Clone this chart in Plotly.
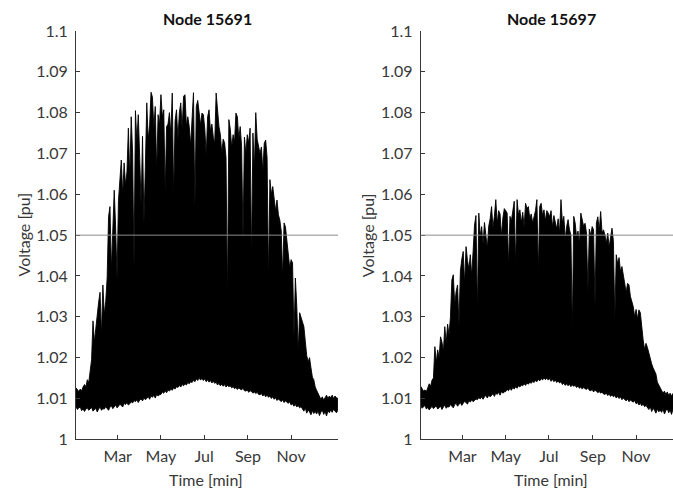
import pandas as pd
import plotly.graph_objects as go

# Daily voltage extremes sampled every second day, starting 1 Jan
START = "2019-01-01"
STEP = "2D"

node_15691_max = [
    1.0126, 1.0121, 1.0117, 1.0123, 1.0119, 1.0128, 1.0134, 1.0129, 1.0146, 1.0139,
    1.0172, 1.0195, 1.0290, 1.0238, 1.0272, 1.0312, 1.0336, 1.0360, 1.0255, 1.0378,
    1.0305, 1.0338, 1.0395, 1.0545, 1.0570, 1.0415, 1.0498, 1.0610, 1.0520, 1.0392,
    1.0585, 1.0652, 1.0684, 1.0598, 1.0677, 1.0622, 1.0655, 1.0762, 1.0640, 1.0790,
    1.0702, 1.0420, 1.0805, 1.0728, 1.0795, 1.0690, 1.0572, 1.0742, 1.0530, 1.0668,
    1.0824, 1.0735, 1.0768, 1.0850, 1.0838, 1.0762, 1.0815, 1.0655, 1.0795, 1.0770,
    1.0844, 1.0790, 1.0807, 1.0605, 1.0766, 1.0772, 1.0800, 1.0745, 1.0848, 1.0595,
    1.0780, 1.0807, 1.0735, 1.0799, 1.0824, 1.0760, 1.0840, 1.0844, 1.0768, 1.0790,
    1.0766, 1.0720, 1.0805, 1.0849, 1.0567, 1.0815, 1.0830, 1.0790, 1.0770, 1.0799,
    1.0795, 1.0760, 1.0695, 1.0790, 1.0807, 1.0755, 1.0772, 1.0740, 1.0725, 1.0848,
    1.0800, 1.0766, 1.0746, 1.0700, 1.0735, 1.0726, 1.0690, 1.0341, 1.0783, 1.0760,
    1.0715, 1.0746, 1.0728, 1.0799, 1.0790, 1.0735, 1.0766, 1.0717, 1.0488, 1.0740,
    1.0700, 1.0746, 1.0726, 1.0762, 1.0440, 1.0750, 1.0660, 1.0800, 1.0735, 1.0716,
    1.0700, 1.0716, 1.0655, 1.0725, 1.0733, 1.0690, 1.0390, 1.0636, 1.0600, 1.0619,
    1.0594, 1.0560, 1.0586, 1.0550, 1.0537, 1.0510, 1.0395, 1.0530, 1.0520, 1.0480,
    1.0447, 1.0420, 1.0440, 1.0432, 1.0250, 1.0395, 1.0325, 1.0216, 1.0310, 1.0300,
    1.0285, 1.0276, 1.0240, 1.0205, 1.0190, 1.0200, 1.0175, 1.0152, 1.0146, 1.0128,
    1.0120, 1.0112, 1.0106, 1.0098, 1.0104, 1.0096, 1.0102, 1.0108, 1.0100, 1.0106,
    1.0102, 1.0108, 1.0100, 1.0106, 1.0102, 1.0100,
]

node_15691_min = [
    1.0080, 1.0073, 1.0077, 1.0079, 1.0070, 1.0075, 1.0068, 1.0074, 1.0077, 1.0071,
    1.0073, 1.0078, 1.0069, 1.0072, 1.0076, 1.0067, 1.0074, 1.0079, 1.0071, 1.0075,
    1.0074, 1.0080, 1.0077, 1.0071, 1.0079, 1.0082, 1.0075, 1.0078, 1.0084, 1.0077,
    1.0081, 1.0086, 1.0083, 1.0079, 1.0088, 1.0085, 1.0090, 1.0084, 1.0087, 1.0092,
    1.0089, 1.0095, 1.0092, 1.0097, 1.0090, 1.0096, 1.0099, 1.0094, 1.0101, 1.0097,
    1.0100, 1.0105, 1.0098, 1.0106, 1.0103, 1.0108, 1.0101, 1.0110, 1.0106, 1.0109,
    1.0110, 1.0116, 1.0113, 1.0119, 1.0114, 1.0121, 1.0118, 1.0123, 1.0120, 1.0126,
    1.0123, 1.0129, 1.0127, 1.0132, 1.0128, 1.0134, 1.0131, 1.0136, 1.0133, 1.0139,
    1.0136, 1.0141, 1.0139, 1.0145, 1.0141, 1.0148, 1.0144, 1.0151, 1.0145, 1.0149,
    1.0144, 1.0148, 1.0141, 1.0146, 1.0140, 1.0144, 1.0138, 1.0142, 1.0137, 1.0140,
    1.0133, 1.0137, 1.0131, 1.0135, 1.0130, 1.0134, 1.0128, 1.0132, 1.0129, 1.0131,
    1.0126, 1.0129, 1.0124, 1.0127, 1.0122, 1.0126, 1.0123, 1.0121, 1.0125, 1.0119,
    1.0118, 1.0121, 1.0115, 1.0119, 1.0117, 1.0113, 1.0116, 1.0112, 1.0115, 1.0110,
    1.0109, 1.0112, 1.0106, 1.0110, 1.0104, 1.0108, 1.0103, 1.0106, 1.0100, 1.0104,
    1.0098, 1.0102, 1.0095, 1.0099, 1.0096, 1.0092, 1.0097, 1.0090, 1.0094, 1.0091,
    1.0088, 1.0092, 1.0084, 1.0087, 1.0081, 1.0085, 1.0079, 1.0083, 1.0077, 1.0080,
    1.0075, 1.0069, 1.0077, 1.0064, 1.0072, 1.0067, 1.0060, 1.0070, 1.0063, 1.0068,
    1.0062, 1.0070, 1.0058, 1.0066, 1.0072, 1.0061, 1.0068, 1.0057, 1.0070, 1.0065,
    1.0072, 1.0066, 1.0074, 1.0069, 1.0065, 1.0071,
]

node_15697_max = [
    1.0130, 1.0124, 1.0118, 1.0121, 1.0117, 1.0126, 1.0136, 1.0130, 1.0145, 1.0150,
    1.0227, 1.0188, 1.0219, 1.0200, 1.0251, 1.0238, 1.0215, 1.0276, 1.0236, 1.0282,
    1.0255, 1.0300, 1.0390, 1.0403, 1.0330, 1.0362, 1.0378, 1.0280, 1.0412, 1.0441,
    1.0460, 1.0380, 1.0472, 1.0438, 1.0418, 1.0452, 1.0400, 1.0462, 1.0525, 1.0548,
    1.0310, 1.0554, 1.0498, 1.0521, 1.0478, 1.0531, 1.0505, 1.0468, 1.0522, 1.0540,
    1.0570, 1.0518, 1.0546, 1.0587, 1.0528, 1.0560, 1.0552, 1.0498, 1.0542, 1.0565,
    1.0560, 1.0554, 1.0423, 1.0546, 1.0535, 1.0562, 1.0583, 1.0427, 1.0587, 1.0550,
    1.0562, 1.0530, 1.0556, 1.0520, 1.0578, 1.0565, 1.0570, 1.0540, 1.0552, 1.0530,
    1.0546, 1.0560, 1.0587, 1.0410, 1.0570, 1.0578, 1.0548, 1.0562, 1.0535, 1.0560,
    1.0554, 1.0545, 1.0560, 1.0520, 1.0548, 1.0529, 1.0515, 1.0540, 1.0505, 1.0587,
    1.0530, 1.0546, 1.0490, 1.0521, 1.0538, 1.0513, 1.0500, 1.0268, 1.0546, 1.0530,
    1.0495, 1.0510, 1.0478, 1.0554, 1.0540, 1.0521, 1.0529, 1.0505, 1.0362, 1.0515,
    1.0500, 1.0521, 1.0513, 1.0329, 1.0530, 1.0545, 1.0510, 1.0558, 1.0505, 1.0513,
    1.0501, 1.0480, 1.0505, 1.0470, 1.0495, 1.0517, 1.0485, 1.0292, 1.0452, 1.0430,
    1.0445, 1.0410, 1.0423, 1.0400, 1.0386, 1.0360, 1.0382, 1.0378, 1.0350, 1.0340,
    1.0325, 1.0300, 1.0318, 1.0295, 1.0317, 1.0310, 1.0270, 1.0243, 1.0220, 1.0235,
    1.0225, 1.0210, 1.0195, 1.0185, 1.0175, 1.0166, 1.0160, 1.0140, 1.0133, 1.0125,
    1.0120, 1.0113, 1.0118, 1.0110, 1.0116, 1.0108, 1.0113, 1.0106, 1.0112, 1.0108,
    1.0110, 1.0105, 1.0112, 1.0106, 1.0110, 1.0107,
]

node_15697_min = [
    1.0082, 1.0076, 1.0079, 1.0083, 1.0074, 1.0078, 1.0072, 1.0077, 1.0081, 1.0075,
    1.0078, 1.0082, 1.0074, 1.0077, 1.0081, 1.0073, 1.0079, 1.0084, 1.0076, 1.0080,
    1.0079, 1.0085, 1.0082, 1.0077, 1.0085, 1.0088, 1.0081, 1.0084, 1.0090, 1.0083,
    1.0088, 1.0093, 1.0090, 1.0086, 1.0095, 1.0091, 1.0097, 1.0092, 1.0095, 1.0099,
    1.0097, 1.0102, 1.0099, 1.0104, 1.0098, 1.0104, 1.0107, 1.0101, 1.0108, 1.0104,
    1.0107, 1.0112, 1.0105, 1.0113, 1.0110, 1.0115, 1.0108, 1.0117, 1.0113, 1.0116,
    1.0117, 1.0122, 1.0119, 1.0125, 1.0120, 1.0127, 1.0123, 1.0129, 1.0125, 1.0131,
    1.0128, 1.0133, 1.0131, 1.0136, 1.0132, 1.0138, 1.0135, 1.0140, 1.0137, 1.0142,
    1.0139, 1.0144, 1.0141, 1.0147, 1.0143, 1.0149, 1.0145, 1.0151, 1.0146, 1.0150,
    1.0145, 1.0149, 1.0142, 1.0147, 1.0141, 1.0145, 1.0139, 1.0143, 1.0138, 1.0141,
    1.0134, 1.0138, 1.0132, 1.0136, 1.0131, 1.0135, 1.0129, 1.0133, 1.0130, 1.0132,
    1.0127, 1.0130, 1.0125, 1.0128, 1.0123, 1.0127, 1.0124, 1.0122, 1.0126, 1.0120,
    1.0119, 1.0122, 1.0116, 1.0120, 1.0118, 1.0114, 1.0117, 1.0113, 1.0116, 1.0111,
    1.0110, 1.0113, 1.0107, 1.0111, 1.0105, 1.0109, 1.0104, 1.0107, 1.0101, 1.0105,
    1.0100, 1.0104, 1.0097, 1.0101, 1.0098, 1.0094, 1.0099, 1.0092, 1.0096, 1.0093,
    1.0091, 1.0095, 1.0087, 1.0090, 1.0084, 1.0088, 1.0082, 1.0086, 1.0080, 1.0083,
    1.0079, 1.0073, 1.0080, 1.0068, 1.0076, 1.0071, 1.0064, 1.0074, 1.0067, 1.0072,
    1.0066, 1.0074, 1.0062, 1.0070, 1.0075, 1.0065, 1.0072, 1.0061, 1.0073, 1.0068,
    1.0075, 1.0069, 1.0077, 1.0072, 1.0068, 1.0074,
]

nodes = ["Node 15691", "Node 15697"]
LIMIT_PU = 1.05

month_ticks = ["2019-03-01", "2019-05-01", "2019-07-01", "2019-09-01", "2019-11-01"]
month_labels = ["Mar", "May", "Jul", "Sep", "Nov"]
volt_ticks = [1.0, 1.01, 1.02, 1.03, 1.04, 1.05, 1.06, 1.07, 1.08, 1.09, 1.1]
volt_labels = ["1", "1.01", "1.02", "1.03", "1.04", "1.05", "1.06", "1.07", "1.08", "1.09", "1.1"]

# ---- figure geometry (pixels) ----
W, H = 673, 491
AX_LEFT = [76, 420.7]
AX_RIGHT = [338, 673]
AX_TOP, AX_BOTTOM = 31, 439.3
X_END = ["2020-01-06 05:00", "2019-12-23 02:30"]

FONT = "Lato, 'Open Sans', sans-serif"
INK = "#383838"

fig = go.Figure()
series = [(node_15691_max, node_15691_min), (node_15697_max, node_15697_min)]

for k, (vmax, vmin) in enumerate(series):
    t = pd.date_range(START, periods=len(vmax), freq=STEP)
    xs = list(t) + list(t[::-1])
    ys = list(vmax) + list(vmin[::-1])
    fig.add_trace(go.Scatter(
        x=xs, y=ys, mode="lines", fill="toself",
        fillcolor="black", line=dict(color="black", width=0.9),
        xaxis="x" if k == 0 else "x2", yaxis="y" if k == 0 else "y2",
        showlegend=False, hoverinfo="skip",
    ))

y_dom = [(H - AX_BOTTOM) / H, (H - AX_TOP) / H]

def x_axis(k):
    return dict(
        domain=[AX_LEFT[k] / W, AX_RIGHT[k] / W],
        type="date", range=[START, X_END[k]],
        tickvals=month_ticks, ticktext=month_labels,
        ticks="inside", ticklen=4, tickcolor=INK, tickwidth=1,
        showline=True, linecolor=INK, linewidth=1, mirror=False,
        showgrid=False, zeroline=False, automargin=False,
        tickfont=dict(family=FONT, size=16, color=INK),
        ticklabelstandoff=2,
        anchor="y" if k == 0 else "y2",
    )

def y_axis(k):
    return dict(
        domain=y_dom, range=[1.0, 1.1],
        tickvals=volt_ticks, ticktext=volt_labels,
        ticks="inside", ticklen=4, tickcolor=INK, tickwidth=1,
        showline=True, linecolor=INK, linewidth=1, mirror=False,
        showgrid=False, zeroline=False, automargin=False,
        tickfont=dict(family=FONT, size=16, color=INK),
        ticklabelstandoff=4,
        anchor="x" if k == 0 else "x2",
    )

annotations = []
for k, name in enumerate(nodes):
    left = AX_LEFT[k]
    cx = (left + left + 262) / 2
    annotations.append(dict(
        text="<b>%s</b>" % name, x=cx / W, y=(H - 18) / H,
        xref="paper", yref="paper", showarrow=False,
        xanchor="center", yanchor="middle",
        font=dict(family=FONT, size=16, color="#111111"),
    ))
    annotations.append(dict(
        text="Time [min]", x=(cx - 1) / W, y=(H - 479) / H,
        xref="paper", yref="paper", showarrow=False,
        xanchor="center", yanchor="middle",
        font=dict(family=FONT, size=16, color=INK),
    ))
    annotations.append(dict(
        text="Voltage [pu]", x=(left - 53.5) / W, y=(H - 235) / H,
        xref="paper", yref="paper", showarrow=False, textangle=-90,
        xanchor="center", yanchor="middle",
        font=dict(family=FONT, size=16, color=INK),
    ))

shapes = []
for k in range(2):
    suffix = "" if k == 0 else "2"
    shapes.append(dict(
        type="line", xref="x%s domain" % suffix, yref="y%s" % suffix,
        x0=0, x1=1, y0=LIMIT_PU, y1=LIMIT_PU,
        line=dict(color="#8c8c8c", width=1), layer="above",
    ))

fig.update_layout(
    width=W, height=H,
    margin=dict(l=0, r=0, t=0, b=0),
    paper_bgcolor="white", plot_bgcolor="white",
    xaxis=x_axis(0), yaxis=y_axis(0),
    xaxis2=x_axis(1), yaxis2=y_axis(1),
    annotations=annotations, shapes=shapes,
    showlegend=False,
)

fig.write_html("out.html")
